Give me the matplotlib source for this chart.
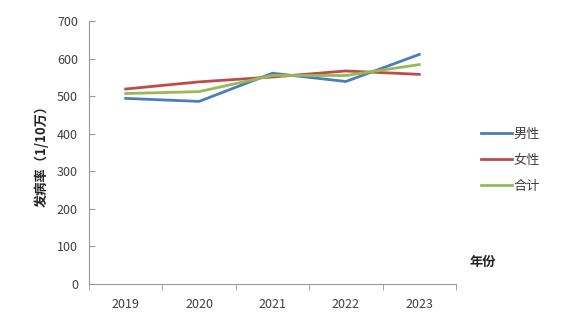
import numpy as np
import matplotlib.pyplot as plt

plt.rcParams['font.family'] = ['Noto Sans CJK SC', 'DejaVu Sans']

years = ['2019', '2020', '2021', '2022', '2023']
male = [494, 486, 561, 539, 611]
female = [519, 538, 551, 567, 558]
total = [507, 512, 555, 555, 584]
series_names = ['男性', '女性', '合计']
colors = ['#4a7ebb', '#be4b48', '#98b954']

fig = plt.figure(figsize=(5.82, 3.34), dpi=100)
ax = fig.add_axes([89 / 582, 1 - 284 / 334, 367 / 582, 263 / 334])

x = np.arange(len(years))
for vals, name, c in zip([male, female, total], series_names, colors):
    ax.plot(x, vals, color=c, lw=2.0, label=name, solid_joinstyle='miter')

ax.set_xlim(-0.5, len(years) - 0.5)
ax.set_ylim(0, 700)
ax.set_yticks(range(0, 701, 100))
ax.set_xticks(x)
ax.set_xticklabels(years)
ax.set_xticks(np.arange(-0.5, len(years), 1.0), minor=True)
ax.tick_params(axis='x', which='major', length=0, pad=10)
ax.tick_params(axis='x', which='minor', length=4, color='#999999', direction='out')
ax.tick_params(axis='y', length=4, color='#999999', direction='in', pad=8)
ax.tick_params(labelsize=9, labelcolor='#404040')

for s in ['top', 'right']:
    ax.spines[s].set_visible(False)
for s in ['left', 'bottom']:
    ax.spines[s].set_color('#999999')
    ax.spines[s].set_linewidth(0.8)

ax.set_ylabel('发病率（1/10万）', fontsize=9.5, fontweight='bold',
              color='#222222', labelpad=6)

leg = ax.legend(loc='upper left', bbox_to_anchor=(1.055, 0.615), frameon=False,
                fontsize=9.5, handlelength=2.3, handletextpad=0.15,
                labelspacing=1.0, borderaxespad=0)
for t in leg.get_texts():
    t.set_color('#404040')

fig.text(470 / 582, 1 - 262 / 334, '年份', fontsize=9.5, fontweight='bold',
         color='#222222', va='center', ha='left')

fig.savefig('out.png', dpi=100)
